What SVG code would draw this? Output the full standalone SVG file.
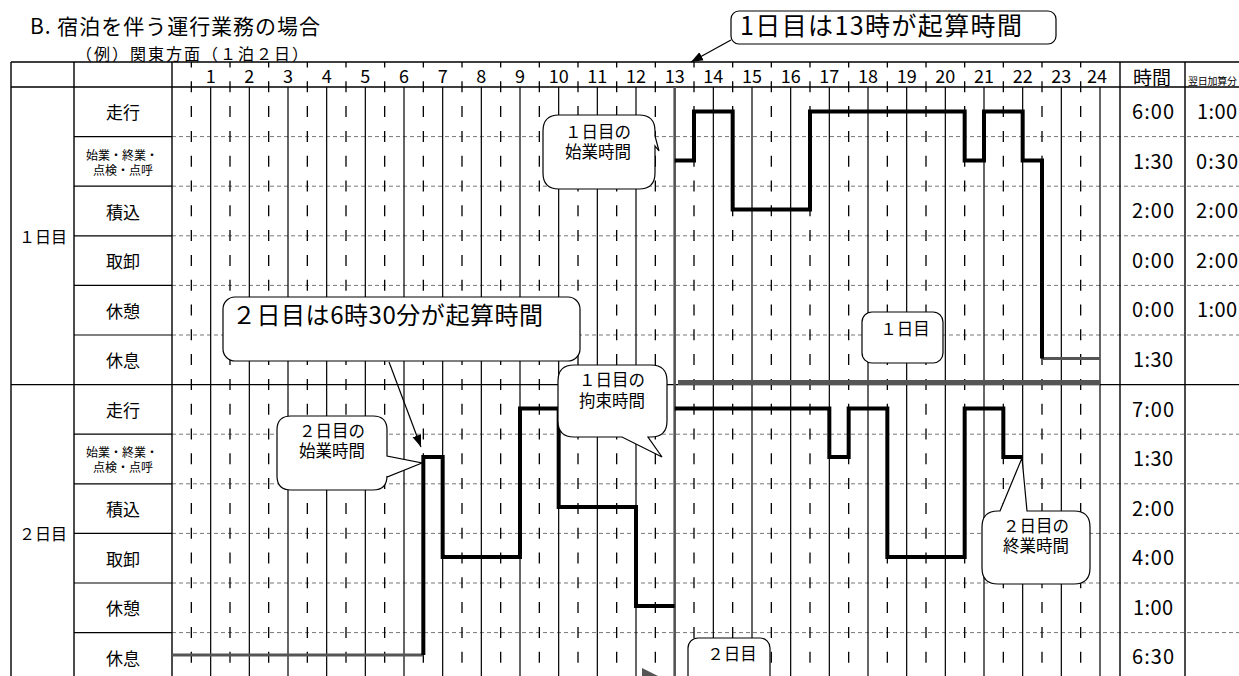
<svg xmlns="http://www.w3.org/2000/svg" width="1239" height="676" viewBox="0 0 1239 676">
<defs>
<style>
.t{font-family:"Noto Sans CJK JP","Noto Sans",sans-serif;fill:#000}
.c{text-anchor:middle;dominant-baseline:central}
.hr{stroke:#000;stroke-width:1.2;fill:none}
.hd{stroke:#000;stroke-width:1.3;stroke-dasharray:11 13.8;stroke-dashoffset:5.5;fill:none}
.rd{stroke:#777;stroke-width:1;stroke-dasharray:4 3;fill:none}
.fr{stroke:#000;stroke-width:1.4;fill:none}
.wk{fill:none;stroke:#000;stroke-width:4;stroke-linejoin:miter;stroke-linecap:butt}
.gy{fill:none;stroke:#555}
.co{fill:#fff;stroke:#000;stroke-width:1.2}
.ar{stroke:#000;stroke-width:1.2;fill:none;marker-end:url(#ah)}
</style>
<marker id="ah" viewBox="0 0 12 10" refX="12" refY="5" markerWidth="12" markerHeight="10" markerUnits="userSpaceOnUse" orient="auto">
<path d="M0,0.5 L12,5 L0,9.5 z" fill="#000"/>
</marker>
</defs>
<rect width="1239" height="676" fill="#fff"/>

<g id="title">
<text class="t" x="30" y="34" font-size="21" textLength="290">B. 宿泊を伴う運行業務の場合</text>
<text class="t" x="76" y="60" font-size="16" textLength="232">（例）関東方面（１泊２日）</text>
</g>

<g id="grid">
<g class="rd">
<path d="M172,136.6H1239M172,186.2H1239M172,235.8H1239M172,285.4H1239M172,335H1239M172,434.2H1239M172,483.8H1239M172,533.4H1239M172,583H1239M172,632.6H1239"/>
</g>
<path class="hr" d="M74,136.6H172M74,186.2H172M74,235.8H172M74,285.4H172M74,335H172M74,434.2H172M74,483.8H172M74,533.4H172M74,583H172M74,632.6H172"/>
<path class="hd" d="M191.33,62V676M230,62V676M268.67,62V676M307.33,62V676M346,62V676M384.67,62V676M423.33,62V676M462,62V676M500.67,62V676M539.33,62V676M578,62V676M616.67,62V676M655.33,62V676M694,62V676M732.67,62V676M771.33,62V676M810,62V676M848.67,62V676M887.33,62V676M926,62V676M964.67,62V676M1003.33,62V676M1042,62V676M1080.67,62V676"/>
<path class="hr" d="M210.67,87V676M249.33,87V676M288,87V676M326.67,87V676M365.33,87V676M404,87V676M442.67,87V676M481.33,87V676M520,87V676M558.67,87V676M597.33,87V676M636,87V676M713.33,87V676M752,87V676M790.67,87V676M829.33,87V676M868,87V676M906.67,87V676M945.33,87V676M984,87V676M1022.67,87V676M1061.33,87V676M1100,87V676"/>
<path class="fr" d="M11,62H1239M11,87H1239M11,384.6H1239M11,62V676M74,62V676M172,62V676M1120,62V676M1185,62V676"/>
<path class="gy" stroke-width="2.6" d="M674.67,87V676"/>
</g>

<g id="header-hours" class="t c" font-size="18">
<text x="210.67" y="75">1</text><text x="249.33" y="75">2</text><text x="288" y="75">3</text><text x="326.67" y="75">4</text><text x="365.33" y="75">5</text><text x="404" y="75">6</text><text x="442.67" y="75">7</text><text x="481.33" y="75">8</text><text x="520" y="75">9</text><text x="558.67" y="75">10</text><text x="597.33" y="75">11</text><text x="636" y="75">12</text><text x="674.67" y="75">13</text><text x="713.33" y="75">14</text><text x="752" y="75">15</text><text x="790.67" y="75">16</text><text x="829.33" y="75">17</text><text x="868" y="75">18</text><text x="906.67" y="75">19</text><text x="945.33" y="75">20</text><text x="984" y="75">21</text><text x="1022.67" y="75">22</text><text x="1061.33" y="75">23</text><text x="1097" y="75">24</text>
<text x="1152" y="76" font-size="19">時間</text>
<text x="1188" y="80" font-size="10" textLength="49" style="text-anchor:start">翌日加算分</text>
</g>

<g id="day-labels" class="t c" font-size="16">
<text x="43" y="235.8">１日目</text>
<text x="43" y="533.4">２日目</text>
</g>

<g id="row-labels" class="t c" font-size="17">
<text x="123" y="111.8">走行</text>
<text x="122" y="153.5" font-size="12"><tspan x="122" y="153.5">始業・終業・</tspan><tspan x="123" y="168.5">点検・点呼</tspan></text>
<text x="123" y="211">積込</text>
<text x="123" y="260.6">取卸</text>
<text x="123" y="310.2">休憩</text>
<text x="123" y="359.8">休息</text>
<text x="123" y="409.4">走行</text>
<text x="122" y="451" font-size="12"><tspan x="122" y="451">始業・終業・</tspan><tspan x="123" y="466">点検・点呼</tspan></text>
<text x="123" y="508.6">積込</text>
<text x="123" y="558.2">取卸</text>
<text x="123" y="607.8">休憩</text>
<text x="123" y="657.4">休息</text>
</g>

<g id="values" class="t c" font-size="20">
<text x="1153" y="110" textLength="42">6:00</text><text x="1217" y="110" textLength="40">1:00</text>
<text x="1153" y="160" textLength="40">1:30</text><text x="1217" y="160" textLength="42">0:30</text>
<text x="1153" y="209.5" textLength="42">2:00</text><text x="1217" y="209.5" textLength="42">2:00</text>
<text x="1153" y="259" textLength="42">0:00</text><text x="1217" y="259" textLength="42">2:00</text>
<text x="1153" y="308.5" textLength="42">0:00</text><text x="1217" y="308.5" textLength="40">1:00</text>
<text x="1153" y="358" textLength="40">1:30</text>
<text x="1153" y="408" textLength="42">7:00</text>
<text x="1153" y="457.5" textLength="40">1:30</text>
<text x="1153" y="507" textLength="42">2:00</text>
<text x="1153" y="556.5" textLength="42">4:00</text>
<text x="1153" y="606" textLength="40">1:00</text>
<text x="1153" y="655.5" textLength="42">6:30</text>
</g>

<g id="work-lines">
<path class="gy" stroke-width="5" d="M678,382.5H1100"/>
<path class="gy" stroke-width="3" d="M1042,358.5H1100"/>
<path class="gy" stroke-width="3" d="M172,655H423.33"/>
<path class="wk" d="M674.67,160.5H694V111.5H732.67V209.5H810V111.5H964.67V160.5H984V111.5H1022.67V160.5H1042V358.5"/>
<path class="wk" d="M423.33,655V457H442.67V557H520V408.5H558.67V507H636V606H674.67"/>
<path class="wk" d="M674.67,408.5H829.33V457H848.67V408.5H887.33V557H964.67V408.5H1003.33V457H1022.67"/>
<polygon points="642,668 658,676 642,684" fill="#555"/>
</g>

<g id="callout-start1">
<path class="co" d="M559,115H639Q655,115 655,131V136L659,151L655,146V173Q655,189 639,189H559Q543,189 543,173V131Q543,115 559,115Z"/>
<text class="t c" font-size="16.5"><tspan x="598" y="131">１日目の</tspan><tspan x="598" y="151">始業時間</tspan></text>
</g>

<g id="callout-restraint1">
<path class="co" d="M574,365H651Q667,365 667,381V421Q667,437 651,437H648L662,457L622,437H574Q558,437 558,421V381Q558,365 574,365Z"/>
<text class="t c" font-size="16.5"><tspan x="612" y="378.5">１日目の</tspan><tspan x="612" y="400">拘束時間</tspan></text>
</g>

<g id="callout-start2">
<path class="co" d="M291,416H373Q387,416 387,430V456L422,463L387,477V476Q387,490 373,490H291Q277,490 277,476V430Q277,416 291,416Z"/>
<text class="t c" font-size="16.5"><tspan x="332" y="430">２日目の</tspan><tspan x="332" y="450">始業時間</tspan></text>
</g>

<g id="callout-end2">
<path class="co" d="M998,511H1000L1022,458L1027,511H1074Q1090,511 1090,527V568Q1090,584 1074,584H998Q982,584 982,568V527Q982,511 998,511Z"/>
<text class="t c" font-size="16.5"><tspan x="1036" y="525">２日目の</tspan><tspan x="1036" y="545">終業時間</tspan></text>
</g>

<g id="callout-day1">
<rect class="co" x="862" y="312" width="81" height="51" rx="10"/>
<text class="t c" x="905" y="327.5" font-size="16.5">１日目</text>
</g>

<g id="callout-day2">
<rect class="co" x="688" y="638" width="82" height="60" rx="10"/>
<text class="t c" x="732" y="653" font-size="16.5">２日目</text>
</g>

<g id="callout-origin2">
<rect class="co" x="223" y="297" width="357" height="64" rx="12"/>
<text class="t" x="232" y="324" font-size="24" textLength="311">２日目は6時30分が起算時間</text>
</g>

<g id="callout-origin1">
<rect class="co" x="731" y="11" width="325" height="33" rx="8"/>
<text class="t" x="740" y="35" font-size="25" textLength="282">1日目は13時が起算時間</text>
</g>

<g id="connectors">
<path class="ar" d="M731,40L691,62"/>
<path class="ar" d="M389,362L421,447"/>
</g>
</svg>
